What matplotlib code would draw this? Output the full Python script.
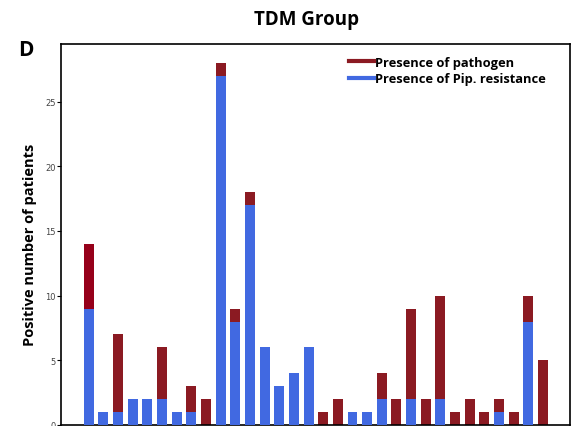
import numpy as np
import matplotlib.pyplot as plt

# patients per isolate group
pathogen = [14, 1, 7, 2, 2, 6, 1, 3, 2, 28, 9, 18, 6, 3, 4, 6,
            1, 2, 1, 1, 4, 2, 9, 2, 10, 1, 2, 1, 2, 1, 10, 5]
resistance = [9, 1, 1, 2, 2, 2, 1, 1, 0, 27, 8, 17, 6, 3, 4, 6,
              0, 0, 1, 1, 2, 0, 2, 0, 2, 0, 0, 0, 1, 0, 8, 0]
yticks = [0, 5, 10, 15, 20, 25]

red = "#8b1a22"
blue = "#4169e1"
bold_font = "Open Sans"

fig = plt.figure(figsize=(5.73, 4.27), dpi=100)
ax = fig.add_axes([61 / 573, 1 / 427, 509 / 573, 381 / 427])

x = np.arange(len(pathogen))
red_colors = [red] * len(pathogen)
red_colors[0] = "#96001a"
ax.bar(x, pathogen, width=0.68, color=red_colors, zorder=2)
ax.bar(x, resistance, width=0.68, color=blue, zorder=3)

ax.set_xlim(-1.9, len(pathogen) - 1 + 1.85)
ax.set_ylim(0, 29.45)
ax.set_xticks([])
ax.set_yticks(yticks)
ax.tick_params(axis="y", labelsize=6, labelcolor="#444444", length=3, width=0.8, pad=1)
for s in ax.spines.values():
    s.set_linewidth(1.2)

ax.set_ylabel("Positive number of patients", fontsize=10.5, fontweight="bold",
              family=bold_font)
ax.yaxis.set_label_coords(-0.048, 0.475)

handles = [plt.Line2D([], [], color=red, lw=3), plt.Line2D([], [], color=blue, lw=3)]
ax.legend(handles, ["Presence of pathogen", "Presence of Pip. resistance"],
          loc="upper right", frameon=False, handlelength=1.9, handletextpad=0.1,
          labelspacing=0.3, bbox_to_anchor=(0.975, 1.0),
          prop={"family": bold_font, "weight": "bold", "size": 9.3})

fig.text(0.535, 0.953, "TDM Group", ha="center", va="center", fontsize=13.5,
         fontweight="bold", family=bold_font)
fig.text(0.045, 0.882, "D", ha="center", va="center", fontsize=15,
         fontweight="bold", family=bold_font)

fig.savefig("out.png", dpi=100)
